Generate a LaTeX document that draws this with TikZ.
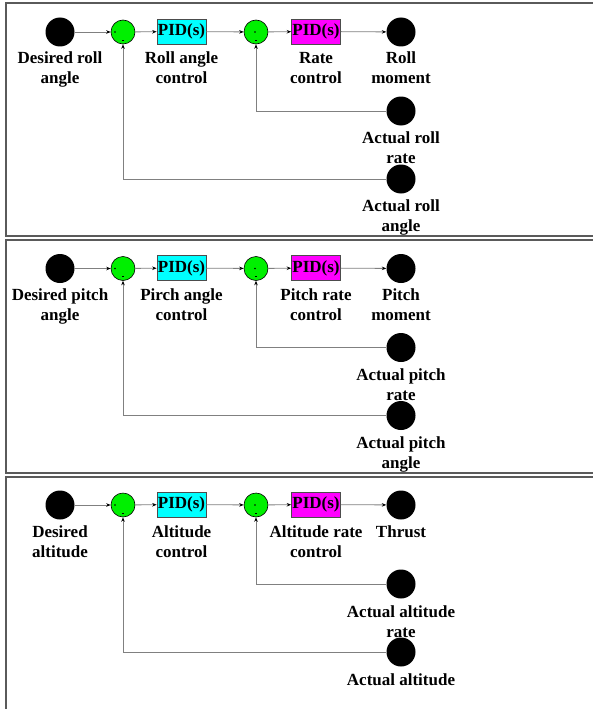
\documentclass[tikz,border=0pt]{standalone}
\usepackage{fontspec}
\setmainfont{Liberation Serif}
\usetikzlibrary{arrows.meta}
\definecolor{linegray}{HTML}{808080}
\definecolor{framegray}{HTML}{5A5A5A}
\definecolor{sumgreen}{HTML}{00F000}
\definecolor{pidcyan}{HTML}{00FFFF}
\definecolor{pidmagenta}{HTML}{FF00FF}
\tikzset{
  x=1pt, y=-1pt,
  blackdot/.style={circle, fill=black, minimum size=29pt, inner sep=0pt},
  sumnode/.style={circle, fill=sumgreen, draw=black, line width=0.6pt, minimum size=24pt, inner sep=0pt},
  pidbox/.style={draw=black!70, line width=0.6pt, minimum width=49pt, minimum height=25pt, inner sep=0pt, font=\fontsize{17}{18}\selectfont\bfseries},
  lab/.style={anchor=north, align=center, inner sep=0pt, font=\fontsize{17}{20}\selectfont\bfseries},
  conn/.style={draw=linegray, line width=0.8pt, -{Stealth[length=4.5pt,width=3.5pt,color=black]}},
  frame/.style={draw=framegray, line width=1.3pt},
}
\newcommand{\loopdiagram}[8]{%
\begin{scope}[shift={(0,#2)}]
  \node[blackdot] (#1d) at (60,32) {};
  \node[sumnode] (#1s1) at (123,32) {};
  \node[pidbox, fill=pidcyan] (#1p1) at (181.5,31.5) {PID(s)};
  \node[sumnode] (#1s2) at (256,32) {};
  \node[pidbox, fill=pidmagenta] (#1p2) at (316,31.5) {PID(s)};
  \node[blackdot] (#1o) at (401,32) {};
  \node[blackdot] (#1r) at (401,111) {};
  \node[blackdot] (#1a) at (401,179) {};
  \fill (115,32) circle (0.9);
  \fill (255,32) circle (0.9);
  \draw[line width=0.6pt] (122,40) -- (124,40);
  \draw[line width=0.6pt] (255,40) -- (257,40);
  \node[lab] (#1dl) at (60,52) {#3};
  \node[lab] (#1p1l) at (181.5,52) {#4};
  \node[lab] (#1p2l) at (316,52) {#5};
  \node[lab] (#1ol) at (401,52) {#6};
  \node[lab] (#1rl) at (401,132) {#7};
  \node[lab] (#1al) at (401,200) {#8};
  \draw[conn] (#1d) -- (#1s1);
  \draw[conn] (#1s1) -- (#1p1);
  \draw[conn] (#1p1) -- (#1s2);
  \draw[conn] (#1s2) -- (#1p2);
  \draw[conn] (#1p2) -- (#1o);
  \draw[conn] (#1r.west) -| (#1s2.south);
  \draw[conn] (#1a.west) -| (#1s1.south);
\end{scope}}
\begin{document}
\begin{tikzpicture}
\useasboundingbox (0,0) rectangle (592,709);
\fill[white] (0,0) rectangle (592,709);
\draw[frame] (6,3) rectangle (600,236);
\draw[frame] (6,240) rectangle (600,473);
\draw[frame] (6,477) rectangle (600,720);
\loopdiagram{a}{0}{Desired roll\\angle}{Roll angle\\control}{Rate\\control}{Roll\\moment}{Actual roll\\rate}{Actual roll\\angle}
\loopdiagram{b}{236.5}{Desired pitch\\angle}{Pirch angle\\control}{Pitch rate\\control}{Pitch\\moment}{Actual pitch\\rate}{Actual pitch\\angle}
\loopdiagram{c}{473}{Desired\\altitude}{Altitude\\control}{Altitude rate\\control}{Thrust}{Actual altitude\\rate}{Actual altitude}
\end{tikzpicture}
\end{document}
